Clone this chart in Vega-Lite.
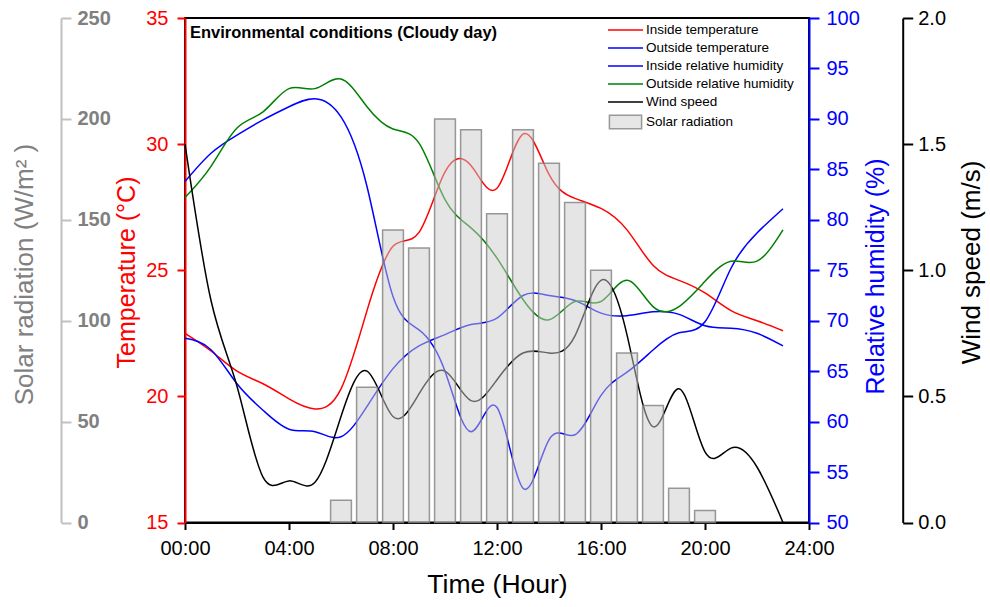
{
  "$schema": "https://vega.github.io/schema/vega-lite/v6.json",
  "width": 624,
  "height": 504.5,
  "autosize": {"type": "none"},
  "padding": {"left": 185, "top": 18, "right": 181, "bottom": 84.5},
  "background": "white",
  "config": {
    "font": "Liberation Sans",
    "view": {"stroke": "black", "strokeWidth": 2},
    "axis": {
      "grid": false,
      "labelFont": "Liberation Sans",
      "titleFont": "Liberation Sans",
      "labelFontSize": 20,
      "titleFontSize": 25,
      "titleFontWeight": "normal",
      "domainWidth": 2,
      "tickWidth": 2,
      "labelOverlap": false,
      "labelFlush": false
    },
    "legend": {
      "orient": "none",
      "direction": "vertical",
      "legendX": 432.5,
      "legendY": 4,
      "symbolSize": 196,
      "labelFont": "Liberation Sans",
      "labelFontSize": 13.5,
      "labelColor": "black",
      "labelOffset": 12.5,
      "rowPadding": 3
    }
  },
  "title": {
    "text": "Environmental conditions (Cloudy day)",
    "anchor": "start",
    "frame": "group",
    "orient": "top",
    "font": "Liberation Sans",
    "fontSize": 16.5,
    "fontWeight": "bold",
    "color": "black",
    "baseline": "top",
    "offset": -4,
    "dx": 5,
    "dy": 29
  },
  "datasets": {
    "hourly": [
      {"hour": 0, "Inside temperature": 22.5, "Outside temperature": 22.3, "Inside relative humidity": 83.8, "Outside relative humidity": 82.2, "Wind speed": 1.5},
      {"hour": 1, "Inside temperature": 21.8, "Outside temperature": 21.85, "Inside relative humidity": 86.6, "Outside relative humidity": 85.3, "Wind speed": 0.88},
      {"hour": 2, "Inside temperature": 21.0, "Outside temperature": 20.5, "Inside relative humidity": 88.4, "Outside relative humidity": 89.1, "Wind speed": 0.54},
      {"hour": 3, "Inside temperature": 20.5, "Outside temperature": 19.45, "Inside relative humidity": 89.9, "Outside relative humidity": 90.7, "Wind speed": 0.18},
      {"hour": 4, "Inside temperature": 19.9, "Outside temperature": 18.7, "Inside relative humidity": 91.2, "Outside relative humidity": 93.0, "Wind speed": 0.165},
      {"hour": 5, "Inside temperature": 19.5, "Outside temperature": 18.6, "Inside relative humidity": 92.0, "Outside relative humidity": 93.0, "Wind speed": 0.16},
      {"hour": 6, "Inside temperature": 20.3, "Outside temperature": 18.4, "Inside relative humidity": 90.2, "Outside relative humidity": 93.95, "Wind speed": 0.42},
      {"hour": 7, "Inside temperature": 23.4, "Outside temperature": 19.6, "Inside relative humidity": 83.3, "Outside relative humidity": 91.2, "Wind speed": 0.6},
      {"hour": 8, "Inside temperature": 25.95, "Outside temperature": 21.1, "Inside relative humidity": 72.4, "Outside relative humidity": 89.0, "Wind speed": 0.42},
      {"hour": 9, "Inside temperature": 26.5, "Outside temperature": 22.0, "Inside relative humidity": 69.1, "Outside relative humidity": 87.6, "Wind speed": 0.51},
      {"hour": 10, "Inside temperature": 28.9, "Outside temperature": 22.45, "Inside relative humidity": 65.0, "Outside relative humidity": 82.0, "Wind speed": 0.6},
      {"hour": 11, "Inside temperature": 29.15, "Outside temperature": 22.85, "Inside relative humidity": 59.0, "Outside relative humidity": 79.2, "Wind speed": 0.483},
      {"hour": 12, "Inside temperature": 28.25, "Outside temperature": 23.1, "Inside relative humidity": 61.4, "Outside relative humidity": 76.2, "Wind speed": 0.566},
      {"hour": 13, "Inside temperature": 30.4, "Outside temperature": 24.0, "Inside relative humidity": 53.4, "Outside relative humidity": 72.1, "Wind speed": 0.672},
      {"hour": 14, "Inside temperature": 28.8, "Outside temperature": 24.0, "Inside relative humidity": 58.2, "Outside relative humidity": 70.1, "Wind speed": 0.672},
      {"hour": 15, "Inside temperature": 27.85, "Outside temperature": 23.8, "Inside relative humidity": 58.7, "Outside relative humidity": 71.9, "Wind speed": 0.74},
      {"hour": 16, "Inside temperature": 27.45, "Outside temperature": 23.3, "Inside relative humidity": 62.6, "Outside relative humidity": 71.9, "Wind speed": 0.96},
      {"hour": 17, "Inside temperature": 26.6, "Outside temperature": 23.2, "Inside relative humidity": 64.9, "Outside relative humidity": 74.0, "Wind speed": 0.744},
      {"hour": 18, "Inside temperature": 25.2, "Outside temperature": 23.35, "Inside relative humidity": 67.1, "Outside relative humidity": 71.4, "Wind speed": 0.38},
      {"hour": 19, "Inside temperature": 24.6, "Outside temperature": 23.25, "Inside relative humidity": 68.8, "Outside relative humidity": 71.4, "Wind speed": 0.53},
      {"hour": 20, "Inside temperature": 24.1, "Outside temperature": 22.8, "Inside relative humidity": 69.9, "Outside relative humidity": 73.9, "Wind speed": 0.28},
      {"hour": 21, "Inside temperature": 23.4, "Outside temperature": 22.7, "Inside relative humidity": 75.2, "Outside relative humidity": 75.9, "Wind speed": 0.295},
      {"hour": 22, "Inside temperature": 23.0, "Outside temperature": 22.5, "Inside relative humidity": 78.7, "Outside relative humidity": 75.9, "Wind speed": 0.22},
      {"hour": 23, "Inside temperature": 22.6, "Outside temperature": 22.0, "Inside relative humidity": 81.1, "Outside relative humidity": 79.0, "Wind speed": 0.0}
    ],
    "solar": [
      {"hour": 6, "Solar radiation": 11},
      {"hour": 7, "Solar radiation": 67},
      {"hour": 8, "Solar radiation": 145},
      {"hour": 9, "Solar radiation": 136},
      {"hour": 10, "Solar radiation": 200},
      {"hour": 11, "Solar radiation": 194.6},
      {"hour": 12, "Solar radiation": 153},
      {"hour": 13, "Solar radiation": 194.6},
      {"hour": 14, "Solar radiation": 178},
      {"hour": 15, "Solar radiation": 158.6},
      {"hour": 16, "Solar radiation": 125},
      {"hour": 17, "Solar radiation": 84},
      {"hour": 18, "Solar radiation": 58},
      {"hour": 19, "Solar radiation": 17},
      {"hour": 20, "Solar radiation": 6}
    ]
  },
  "encoding": {
    "x": {
      "field": "hour",
      "type": "quantitative",
      "scale": {"domain": [0, 24], "nice": false, "zero": false, "padding": 0},
      "axis": {
        "values": [0, 4, 8, 12, 16, 20, 24],
        "labelExpr": "(datum.value < 10 ? '0' : '') + datum.value + ':00'",
        "title": "Time (Hour)",
        "titleFontSize": 26.5,
        "titlePadding": 13,
        "tickSize": 7,
        "labelPadding": 9,
        "domainColor": "black",
        "tickColor": "black",
        "labelColor": "black",
        "titleColor": "black"
      }
    }
  },
  "layer": [
    {
      "data": {"name": "hourly"},
      "transform": [{"fold": ["Inside temperature", "Outside temperature"], "as": ["series", "value"]}],
      "mark": {"type": "line", "interpolate": "natural", "strokeWidth": 1.5},
      "encoding": {
        "y": {
          "field": "value",
          "type": "quantitative",
          "scale": {"domain": [15, 35], "nice": false, "zero": false},
          "axis": {
            "orient": "left",
            "values": [15, 20, 25, 30, 35],
            "title": "Temperature (°C)",
            "domainColor": "#ff0000",
            "tickColor": "#ff0000",
            "labelColor": "#ff0000",
            "titleColor": "#ff0000",
            "tickSize": 8,
            "labelPadding": 9,
            "titleAngle": 270,
            "titleBaseline": "middle",
            "titleX": -59,
            "titleY": 254
          }
        },
        "color": {
          "field": "series",
          "type": "nominal",
          "scale": {
            "domain": ["Inside temperature", "Outside temperature", "Inside relative humidity", "Outside relative humidity", "Wind speed", "Solar radiation"],
            "range": ["#ff0000", "#0000ff", "#0000ff", "#008000", "#000000", "#999999"]
          },
          "legend": {
            "title": null,
            "encode": {
              "symbols": {
                "update": {
                  "shape": {"signal": "datum.value === 'Solar radiation' ? 'M-2.3,-0.98H2.3V0.98H-2.3Z' : 'M-2.5,0H2.5'"},
                  "fill": {"signal": "datum.value === 'Solar radiation' ? '#e6e6e6' : 'transparent'"},
                  "fillOpacity": {"signal": "datum.value === 'Solar radiation' ? 1 : 0"},
                  "strokeWidth": {"value": 1.5},
                  "opacity": {"value": 1},
                  "strokeOpacity": {"value": 1}
                }
              }
            }
          }
        }
      }
    },
    {
      "data": {"name": "hourly"},
      "transform": [{"fold": ["Inside relative humidity", "Outside relative humidity"], "as": ["series", "value"]}],
      "mark": {"type": "line", "interpolate": "natural", "strokeWidth": 1.5},
      "encoding": {
        "y": {
          "field": "value",
          "type": "quantitative",
          "scale": {"domain": [50, 100], "nice": false, "zero": false},
          "axis": {
            "orient": "right",
            "values": [50, 55, 60, 65, 70, 75, 80, 85, 90, 95, 100],
            "title": "Relative humidity (%)",
            "domainColor": "#0000ff",
            "tickColor": "#0000ff",
            "labelColor": "#0000ff",
            "titleColor": "#0000ff",
            "tickSize": 10,
            "labelPadding": 7,
            "titleAngle": 270,
            "titleBaseline": "middle",
            "titleX": 66,
            "titleY": 258
          }
        },
        "color": {"field": "series", "type": "nominal"}
      }
    },
    {
      "data": {"name": "hourly"},
      "transform": [{"fold": ["Wind speed"], "as": ["series", "value"]}],
      "mark": {"type": "line", "interpolate": "natural", "strokeWidth": 1.5},
      "encoding": {
        "y": {
          "field": "value",
          "type": "quantitative",
          "scale": {"domain": [0, 2], "nice": false},
          "axis": {
            "orient": "right",
            "offset": 93.7,
            "values": [0, 0.5, 1, 1.5, 2],
            "format": ".1f",
            "title": "Wind speed (m/s)",
            "titleFontSize": 26,
            "domainColor": "#000000",
            "tickColor": "#000000",
            "labelColor": "#000000",
            "titleColor": "#000000",
            "tickSize": 10,
            "labelPadding": 5,
            "titleAngle": 270,
            "titleBaseline": "middle",
            "titleX": 69,
            "titleY": 244
          }
        },
        "color": {"field": "series", "type": "nominal"}
      }
    },
    {
      "data": {"name": "solar"},
      "mark": {"type": "bar", "size": 20.8, "fill": "#cccccc", "fillOpacity": 0.5, "stroke": "#808080", "strokeWidth": 1.5, "strokeOpacity": 0.8},
      "encoding": {
        "y": {
          "field": "Solar radiation",
          "type": "quantitative",
          "scale": {"domain": [0, 250], "nice": false},
          "axis": {
            "orient": "right",
            "offset": -748,
            "values": [0, 50, 100, 150, 200, 250],
            "title": "Solar radiation (W/m² )",
            "domainColor": "#c0c0c0",
            "tickColor": "#c0c0c0",
            "labelColor": "#808080",
            "labelFontWeight": "bold",
            "titleColor": "#808080",
            "titleFontSize": 26,
            "tickSize": 10,
            "labelPadding": 6,
            "titleAngle": 270,
            "titleBaseline": "middle",
            "titleX": -37,
            "titleY": 256
          }
        }
      }
    }
  ],
  "resolve": {"scale": {"y": "independent"}, "axis": {"y": "independent"}}
}
